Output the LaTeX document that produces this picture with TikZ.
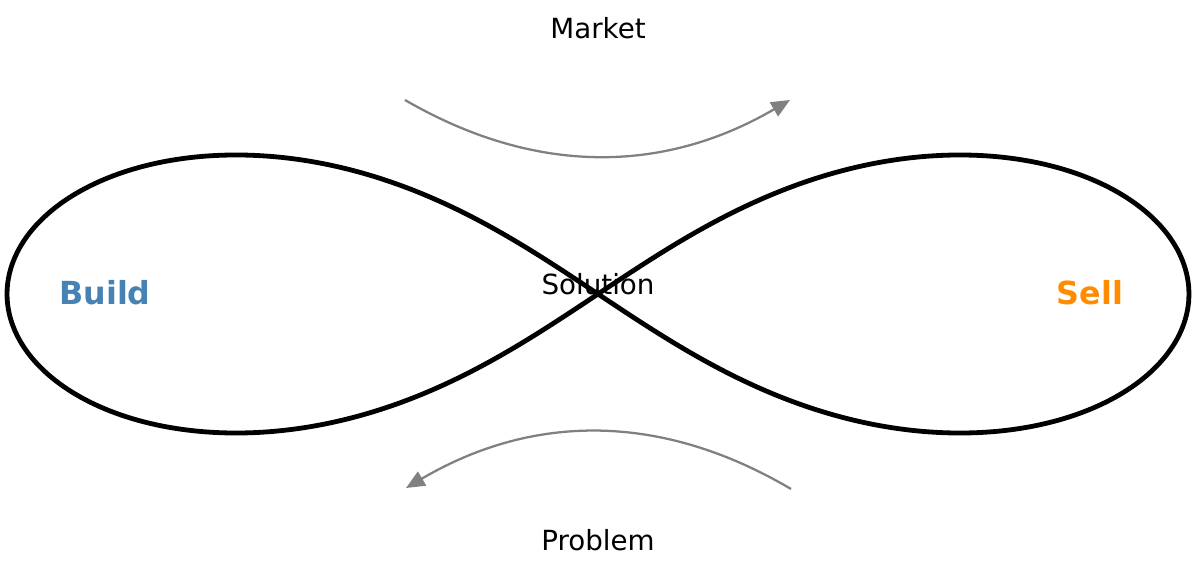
\documentclass[tikz,border=0pt]{standalone}
\usepackage{fontspec}
\setmainfont{DejaVu Sans}
\usetikzlibrary{arrows.meta}
\definecolor{buildblue}{HTML}{4682B4}
\definecolor{sellorange}{HTML}{FF8C00}
\definecolor{arrowgray}{HTML}{808080}
\tikzset{
  lbl/.style={inner sep=0pt, anchor=base, font=\fontsize{20.8pt}{24pt}\selectfont},
  bold lbl/.style={inner sep=0pt, anchor=base, font=\fontsize{23.8pt}{28pt}\selectfont\bfseries},
  flow/.style={draw=arrowgray, line width=1.7pt, -{Triangle[length=14pt,width=12pt]}},
  loop/.style={draw=black, line width=3.6pt, line join=round}
}
\begin{document}
\begin{tikzpicture}[x=0.75pt, y=-0.75pt]
\useasboundingbox (0,0) rectangle (1200,573);
\draw[loop] plot[domain=0:360, samples=300, smooth cycle]
  ({598+591*cos(\x)/(1+sin(\x)*sin(\x))}, {294-393.2*sin(\x)*cos(\x)/(1+sin(\x)*sin(\x))});
\node[lbl] (market) at (598,39) {Market};
\node[lbl] (problem) at (598,550) {Problem};
\node[lbl] (solution) at (598,295) {Solution};
\node[bold lbl, text=buildblue] (build) at (105,305) {Build};
\node[bold lbl, text=sellorange] (sell) at (1090,305) {Sell};
\coordinate (mtail) at (405,100);
\coordinate (mhead) at (790,100);
\coordinate (ptail) at (791,489);
\coordinate (phead) at (406,488);
\draw[flow] (mtail) .. controls (533.7,174.7) and (662,174.7) .. (mhead);
\draw[flow] (ptail) .. controls (662.3,413) and (534,412.7) .. (phead);
\end{tikzpicture}
\end{document}
